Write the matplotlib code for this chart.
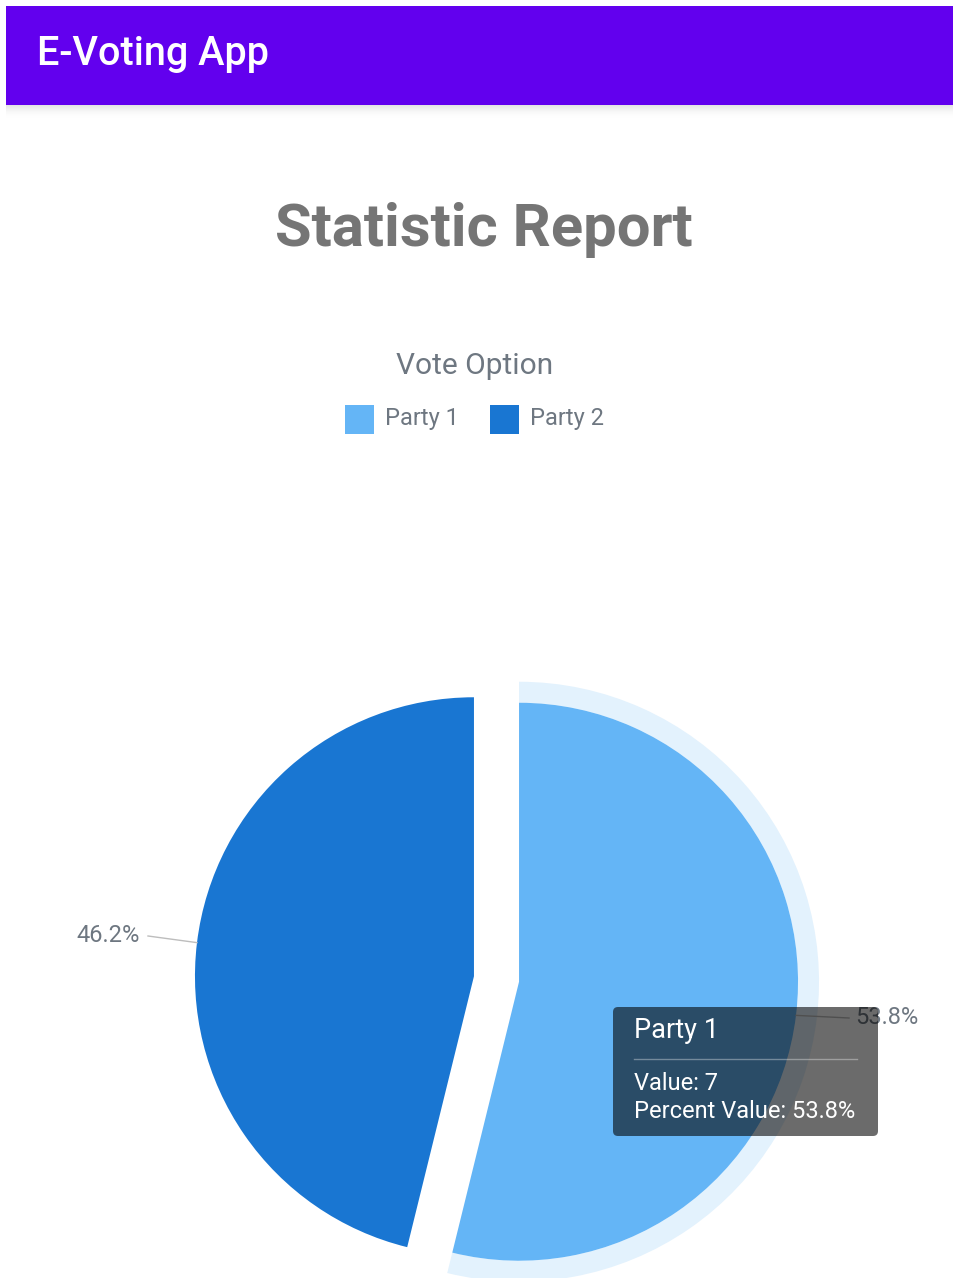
import matplotlib
matplotlib.use("Agg")
import matplotlib.pyplot as plt
from matplotlib.patches import Rectangle, FancyBboxPatch, Wedge
import numpy as np

# Data
parties = ["Party 1", "Party 2"]
votes = [7, 6]
colors = ["#64B5F6", "#1976D2"]
app_title = "E-Voting App"
report_title = "Statistic Report"
legend_title = "Vote Option"

W, H = 954, 1278
plt.rcParams["font.family"] = ["Roboto", "DejaVu Sans"]

fig = plt.figure(figsize=(W / 100, H / 100), dpi=100)
ax = fig.add_axes([0, 0, 1, 1])
ax.set_xlim(0, W)
ax.set_ylim(0, H)
ax.set_aspect("equal")
ax.axis("off")


def Y(y):
    """Convert a top-down pixel row into the axes' bottom-up coordinate."""
    return H - y


# App bar with a soft shadow underneath
for i in range(14):
    ax.add_patch(Rectangle((6, Y(105 + i + 1)), W - 6, 1, color="black",
                           alpha=0.10 * (1 - i / 14) ** 2, lw=0, zorder=1))
ax.add_patch(Rectangle((6, Y(105)), W - 6, 99, color="#6200EE", lw=0, zorder=2))
ax.text(37, Y(54), app_title, color="white", fontsize=28.5, fontweight="medium",
        va="center", ha="left", zorder=3)

# Page heading
ax.text(484, Y(230), report_title, color="#757575", fontsize=43, fontweight="bold",
        ha="center", va="center")

# Legend
text_grey = "#6E7781"
ax.text(475, Y(366), legend_title, color=text_grey, fontsize=21.5, ha="center", va="center")
legend_x = [(345, 385), (490, 530)]
for (sx, tx), name, col in zip(legend_x, parties, colors):
    ax.add_patch(Rectangle((sx, Y(434)), 29, 29, color=col, lw=0))
    ax.text(tx, Y(419), name, color=text_grey, fontsize=17, ha="left", va="center")

# Pie chart: clockwise from twelve o'clock, both slices pulled out
cx, cy = 496.5, Y(979)
r = 279
total = sum(votes)
fracs = [v / total for v in votes]
offset = 22.7  # explode distance in axes units (pixels)

wedges, _ = ax.pie(votes, colors=colors, startangle=90, counterclock=False,
                   center=(cx, cy), radius=r,
                   explode=[offset, offset],
                   wedgeprops=dict(linewidth=0), frame=False)
ax.set_xlim(0, W)
ax.set_ylim(0, H)
ax.axis("off")

# Hover halo around Party 1
w0 = wedges[0]
ax.add_patch(Wedge(w0.center, r + 21, w0.theta1, w0.theta2, width=21,
                   color="#E3F2FD", lw=0, zorder=0.5))

# Percentage labels with tick lines
label_pos = [(855, 1018, "left"), (140, 936, "right")]
for w, f, (lx, ly, ha) in zip(wedges, fracs, label_pos):
    mid = np.deg2rad((w.theta1 + w.theta2) / 2)
    ex = w.center[0] + r * np.cos(mid)
    ey = w.center[1] + r * np.sin(mid)
    tx = lx - 6 if ha == "left" else lx + 8
    ax.plot([ex, tx], [ey, Y(ly)], color="#BDBDBD", lw=1, zorder=1)
    ax.text(lx, Y(ly), f"{f * 100:.1f}%", color=text_grey, fontsize=17,
            ha=ha, va="center", zorder=1)

# Tooltip for the hovered slice
ax.add_patch(FancyBboxPatch((613, Y(1136)), 265, 129,
                            boxstyle="round,pad=0,rounding_size=5",
                            fc="black", alpha=0.58, lw=0, zorder=5))
ax.text(634, Y(1030), parties[0], color="white", fontsize=19.5, ha="left",
        va="center", zorder=6)
ax.plot([634, 857], [Y(1059), Y(1059)], color="white", alpha=0.35, lw=1, zorder=6)
ax.text(634, Y(1083), f"Value: {votes[0]}", color="white", fontsize=17,
        ha="left", va="center", zorder=6)
ax.text(634, Y(1112), f"Percent Value: {fracs[0] * 100:.1f}%", color="white",
        fontsize=17, ha="left", va="center", zorder=6)

fig.savefig("out.png", dpi=100, facecolor="white")
